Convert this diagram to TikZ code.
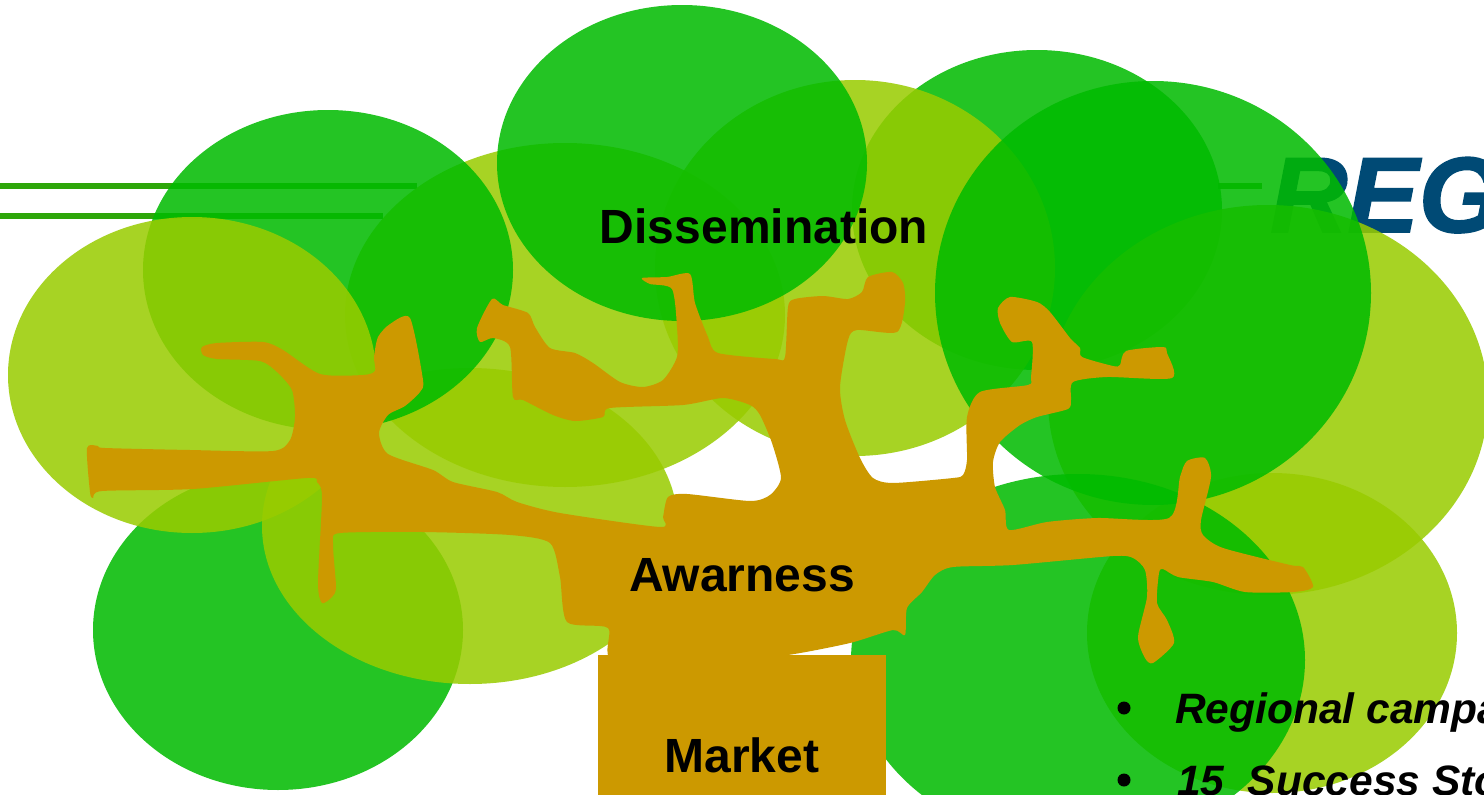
\documentclass[tikz,border=0pt]{standalone}
\usepackage{fontspec}
\setmainfont{Liberation Sans}
\newfontfamily\logofont[BoldFont={Liberation Sans Bold Italic},BoldFeatures={FakeBold=1.6}]{Liberation Sans}
\definecolor{dkgreen}{HTML}{00BB00}
\definecolor{ltgreen}{HTML}{99CC00}
\definecolor{bark}{HTML}{CC9900}
\definecolor{rule}{HTML}{2EA60A}
\definecolor{logo}{HTML}{004A75}
\tikzset{
  dk/.style={fill=dkgreen,fill opacity=.86},
  lt/.style={fill=ltgreen,fill opacity=.86},
  lbl/.style={anchor=base,font=\fontsize{48}{48}\bfseries,text=black,inner sep=0pt},
  item/.style={anchor=base west,font=\fontsize{42.5}{42.5}\bfseries\itshape,text=black,inner sep=0pt},
  blt/.style={fill=black}
}
\begin{document}
\begin{tikzpicture}[x=1pt,y=-1pt]
\clip (0,0) rectangle (1484,795);
\fill[white] (0,0) rectangle (1484,795);
% rules and logo behind the foliage
\fill[rule] (0,183) rectangle (417,189);
\fill[rule] (0,213) rectangle (383,219);
\fill[rule] (1218,183) rectangle (1262,189);
\node[anchor=base west,inner sep=0pt,text=logo,font=\logofont\fontsize{107}{107}\bfseries] (reg) at (1270,232) {REG};
% foliage
\fill[dk] (278,630) ellipse [x radius=185,y radius=160];
\fill[dk] (1037,210) ellipse [x radius=185,y radius=160];
\fill[lt] (470,526) ellipse [x radius=208,y radius=158];
\fill[lt] (565,315) ellipse [x radius=220,y radius=172];
\fill[lt] (855,268) ellipse [x radius=200,y radius=188];
\fill[lt] (1268,400) ellipse [x radius=220,y radius=195];
\fill[lt] (1272,633) ellipse [x radius=185,y radius=160];
\fill[dk] (328,270) ellipse [x radius=185,y radius=160];
\fill[lt] (192,375) ellipse [x radius=184,y radius=158];
\fill[dk] (682,163) ellipse [x radius=185,y radius=158];
\fill[dk] (1153,293) ellipse [x radius=218,y radius=212];
\fill[dk] (1078,660) ellipse [x radius=227,y radius=186];
% trunk and branches
\fill[bark] plot[smooth cycle,tension=.42] coordinates {
(87,448)(98,446)(105,448)(190,450)(273,451)(290,440)(295,417)(292,390)(277,372)(260,361)(217,359)(203,355)(202,347)(217,343)(263,342)(283,350)(320,374)(363,375)(375,371)(374,357)(378,337)(390,324)(410,318)(423,380)(420,392)(405,406)(388,415)(379,433)(388,454)(433,470)(453,482)(497,492)(517,502)(560,513)(660,527)(663,517)(668,497)(687,494)(750,501)(770,495)(781,478)(772,443)(760,415)(750,405)(723,398)(683,405)(610,408)(603,417)(575,421)(553,415)(523,400)(513,397)(510,347)(493,338)(480,342)(477,328)(492,299)(503,305)(528,313)(535,327)(550,348)(575,353)(593,363)(620,382)(643,387)(663,380)(677,357)(677,327)(672,289)(650,284)(642,278)(667,277)(690,274)(695,303)(708,337)(718,353)(775,359)(785,357)(788,307)(795,299)(823,296)(848,299)(862,292)(868,277)(892,272)(903,283)(905,303)(897,332)(857,330)(848,340)(840,387)(845,420)(860,458)(873,478)(893,483)(953,478)(963,475)(967,460)(967,417)(980,392)(1028,385)(1031,377)(1032,342)(1012,342)(1000,323)(998,308)(1010,297)(1037,302)(1050,312)(1070,338)(1080,348)(1082,357)(1113,366)(1120,365)(1126,351)(1163,347)(1167,353)(1172,378)(1107,377)(1073,382)(1071,400)(1068,409)(1037,417)(1020,425)(1000,442)(993,462)(995,487)(1005,510)(1009,530)(1047,522)(1097,518)(1169,518)(1180,477)(1187,461)(1205,458)(1211,477)(1201,520)(1203,535)(1223,548)(1290,565)(1303,567)(1313,587)(1293,592)(1245,592)(1213,582)(1178,577)(1163,569)(1159,573)(1157,603)(1167,620)(1174,643)(1153,663)(1145,658)(1138,637)(1147,597)(1145,570)(1133,558)(1113,556)(1013,565)(953,567)(935,575)(922,592)(907,608)(905,635)(893,630)(850,643)(788,655)(700,665)(612,660)(608,628)(567,622)(560,577)(550,543)(510,535)(423,532)(340,533)(333,543)(336,587)(332,597)(322,603)(318,583)(322,497)(317,482)(307,478)(193,489)(102,491)(93,498)(90,492)};
\fill[bark] (598,655) rectangle (886,795);
% labels
\node[lbl] (dis) at (764,243) {Dissemination};
\node[lbl] (awa) at (742,591) {Awarness};
\node[lbl] (mar) at (742,772) {Market};
\fill[blt] (1124,708) circle (6.5);
\fill[blt] (1124,780) circle (6.5);
\node[item] (it1) at (1175,723) {Regional campa};
\node[item] (it2) at (1177,795) {15\hspace{.55em}Success Sto};
\end{tikzpicture}
\end{document}
